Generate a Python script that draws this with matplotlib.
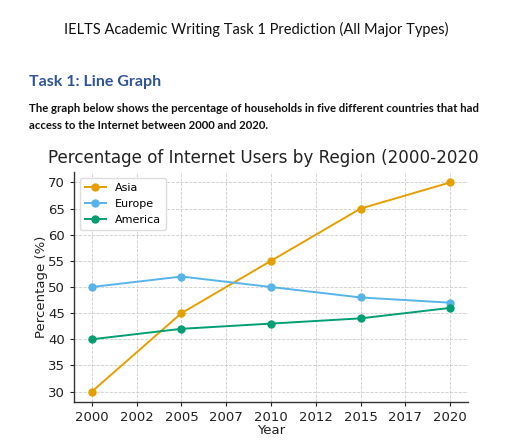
import matplotlib as mpl
import matplotlib.pyplot as plt

mpl.rcParams['font.family'] = ['DejaVu Sans']

# data
years = [2000, 2005, 2010, 2015, 2020]
asia = [30, 45, 55, 65, 70]
europe = [50, 52, 50, 48, 47]
america = [40, 42, 43, 44, 46]

xtick_pos = [2000, 2002.5, 2005, 2007.5, 2010, 2012.5, 2015, 2017.5, 2020]
xtick_labels = ['2000', '2002', '2005', '2007', '2010', '2012', '2015', '2017', '2020']
yticks = [30, 35, 40, 45, 50, 55, 60, 65, 70]

series = [('Asia', asia, '#E69F00'),
          ('Europe', europe, '#56B4E9'),
          ('America', america, '#009E73')]

fig = plt.figure(figsize=(5.12, 4.4), dpi=100)

# document text above the chart
doc_font = ['Lato', 'DejaVu Sans']
fig.text(0.5, 1 - 29/440, 'IELTS Academic Writing Task 1 Prediction (All Major Types)',
         ha='center', va='center', fontsize=10.5, family=doc_font, color='#111111')
fig.text(29/512, 1 - 82/440, 'Task 1: Line Graph', ha='left', va='center',
         fontsize=11.5, fontweight='bold', family=doc_font, color='#2F5597')
fig.text(29/512, 1 - 108/440,
         'The graph below shows the percentage of households in five different countries that had',
         ha='left', va='center', fontsize=8.2, fontweight='bold', family=doc_font, color='#111111')
fig.text(29/512, 1 - 125/440, 'access to the Internet between 2000 and 2020.',
         ha='left', va='center', fontsize=8.2, fontweight='bold', family=doc_font, color='#111111')

ax = fig.add_axes([74/512, 38/440, 394/512, 230/440])

for name, vals, col in series:
    ax.plot(years, vals, marker='o', markersize=5, linewidth=1.4, color=col, label=name)

ax.set_xticks(xtick_pos)
ax.set_xticklabels(xtick_labels)
ax.set_yticks(yticks)
ax.tick_params(labelsize=9.5, colors='#222222', length=3)
ax.grid(True, linestyle='--', color='#cccccc', linewidth=0.6)
for s in ['top', 'right']:
    ax.spines[s].set_visible(False)
for s in ['left', 'bottom']:
    ax.spines[s].set_color('#333333')
    ax.spines[s].set_linewidth(1.0)

ax.set_xlabel('Year', fontsize=9.5, labelpad=0, color='#222222')
ax.set_ylabel('Percentage (%)', fontsize=9.5, labelpad=0, color='#222222')

fig.text(48/512, 1 - 158/440, 'Percentage of Internet Users by Region (2000-2020',
         ha='left', va='center', fontsize=12.1, color='#222222')

ax.legend(loc='upper left', fontsize=8, frameon=True, framealpha=1,
          edgecolor='#dddddd', borderpad=0.45, handlelength=1.9, labelspacing=0.55)

fig.savefig('out.png', dpi=100, facecolor='white')
